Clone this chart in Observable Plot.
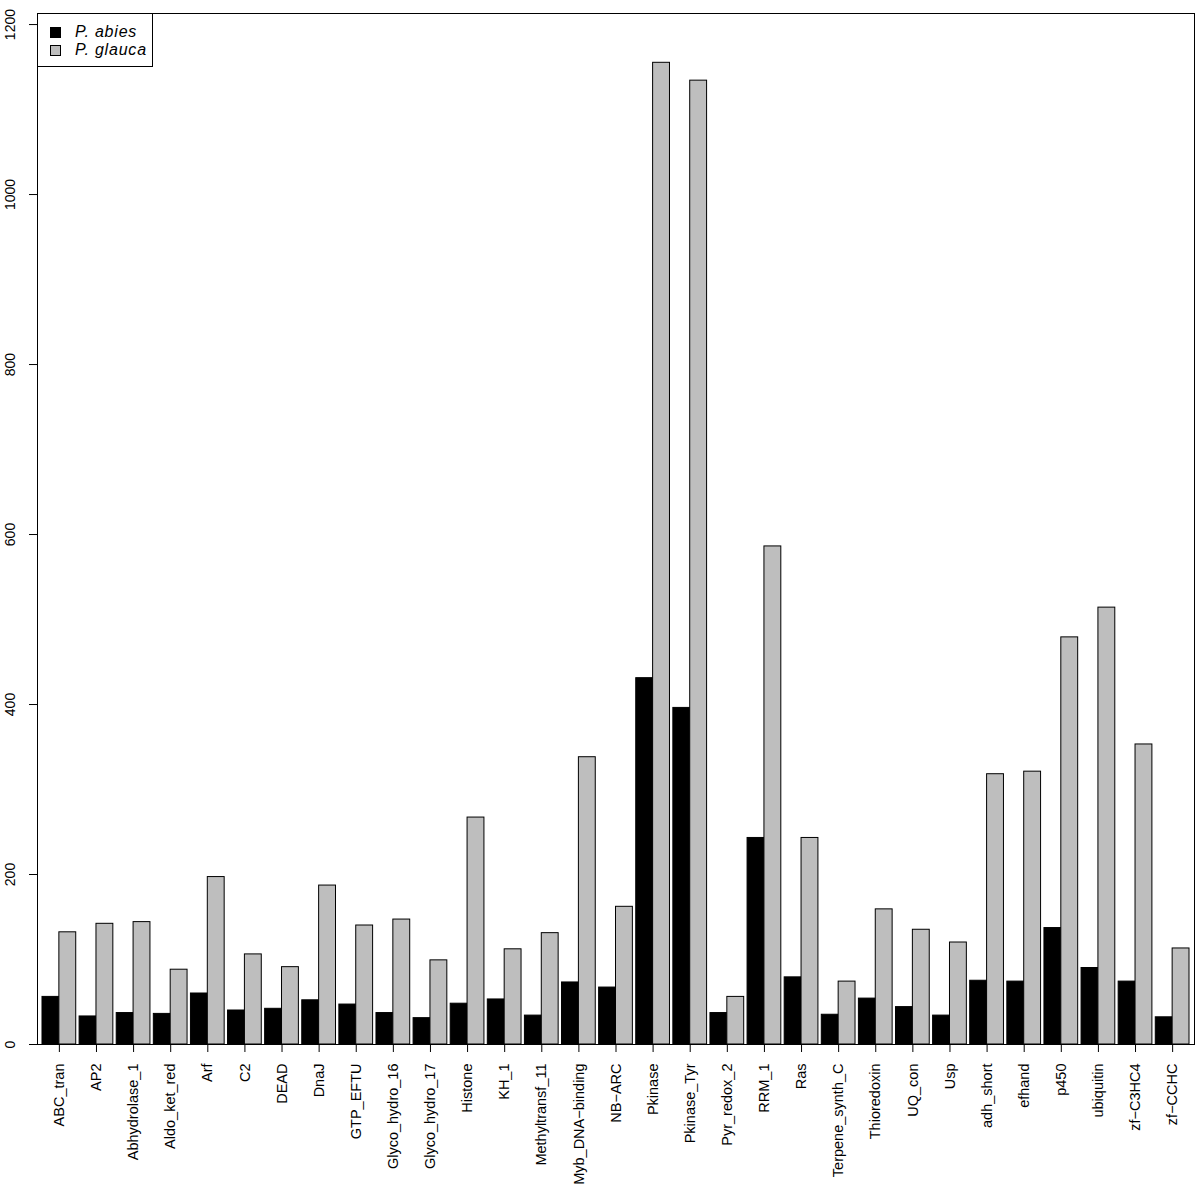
<!DOCTYPE html>
<html>
<head>
<meta charset="utf-8">
<script src="https://cdn.jsdelivr.net/npm/d3@7"></script>
<script src="https://cdn.jsdelivr.net/npm/@observablehq/plot@0.6"></script>
<style>
  body { margin: 0; background: #fff; }
  #wrap { position: relative; width: 1200px; height: 1191px; font-family: "Liberation Sans", Arial, Helvetica, sans-serif; }
  #legend { position: absolute; left: 37px; top: 13px; width: 116px; height: 54px; border: 1px solid #000; background: #fff; box-sizing: border-box; }
  .item { position: absolute; left: 12px; height: 16px; display: flex; align-items: center; font-style: italic; font-size: 16px; letter-spacing: 0.8px; }
  .sw { width: 9px; height: 9px; border: 1px solid #000; margin-right: 14px; }
</style>
</head>
<body>
<div id="wrap"></div>
<script>
const categories = ["ABC_tran","AP2","Abhydrolase_1","Aldo_ket_red","Arf","C2","DEAD","DnaJ","GTP_EFTU","Glyco_hydro_16","Glyco_hydro_17","Histone","KH_1","Methyltransf_11","Myb_DNA\u2212binding","NB\u2212ARC","Pkinase","Pkinase_Tyr","Pyr_redox_2","RRM_1","Ras","Terpene_synth_C","Thioredoxin","UQ_con","Usp","adh_short","efhand","p450","ubiquitin","zf\u2212C3HC4","zf\u2212CCHC"];
const abies  = [56,33,37,36,60,40,42,52,47,37,31,48,53,34,73,67,431,396,37,243,79,35,54,44,34,75,74,137,90,74,32];
const glauca = [132,142,144,88,197,106,91,187,140,147,99,267,112,131,338,162,1155,1134,56,586,243,74,159,135,120,318,321,479,514,353,113];
const series = ["P. abies","P. glauca"];
const seriesColors = ["#000000","#bebebe"];
const yTicks = [0,200,400,600,800,1000,1200];

const groupStep = 2.2, groupGap = 0.2;
const rows = categories.flatMap((c, i) => [
  {cat: c, i, s: 0, series: series[0], value: abies[i]},
  {cat: c, i, s: 1, series: series[1], value: glauca[i]}
]);
const center = i => i * groupStep + groupGap + 1;

const chart = Plot.plot({
  width: 1200,
  height: 1191,
  marginLeft: 37,
  marginRight: 6,
  marginTop: 13,
  marginBottom: 147,
  style: {fontFamily: "'Liberation Sans', Arial, Helvetica, sans-serif", fontSize: "14px", color: "#000"},
  x: {domain: [-0.096, categories.length * groupStep + 0.296], axis: null},
  y: {domain: [0, 1213], axis: null},
  color: {domain: series, range: seriesColors},
  marks: [
    Plot.rectY(rows, {
      x1: d => d.i * groupStep + groupGap + d.s,
      x2: d => d.i * groupStep + groupGap + d.s + 1,
      y: "value",
      fill: "series",
      stroke: "#000",
      strokeWidth: 1,
      insetLeft: 0, insetRight: 0
    }),
    Plot.axisX({ticks: categories.map((c, i) => center(i)), tickSize: 8, tickFormat: () => "", label: null, stroke: "#000"}),
    Plot.axisY({ticks: yTicks, tickSize: 8, tickFormat: () => "", label: null, stroke: "#000"}),
    Plot.text(categories, {
      x: (d, i) => center(i),
      text: d => d,
      frameAnchor: "bottom",
      dy: 19,
      rotate: -90,
      textAnchor: "end",
      lineAnchor: "middle",
      fontSize: 14.5,
      fill: "#000"
    }),
    Plot.text(yTicks, {
      y: d => d,
      text: d => String(d),
      frameAnchor: "left",
      dx: -27,
      rotate: -90,
      textAnchor: "middle",
      lineAnchor: "middle",
      fontSize: 14,
      fill: "#000"
    }),
    Plot.frame({stroke: "#000", strokeWidth: 1})
  ]
});

const wrap = document.getElementById("wrap");
wrap.appendChild(chart);
const legend = document.createElement("div");
legend.id = "legend";
series.forEach((s, k) => {
  const item = document.createElement("div");
  item.className = "item";
  item.style.top = (k === 0 ? 10 : 28) + "px";
  const sw = document.createElement("span");
  sw.className = "sw";
  sw.style.background = seriesColors[k];
  item.appendChild(sw);
  item.appendChild(document.createTextNode(s));
  legend.appendChild(item);
});
wrap.appendChild(legend);
</script>
</body>
</html>
